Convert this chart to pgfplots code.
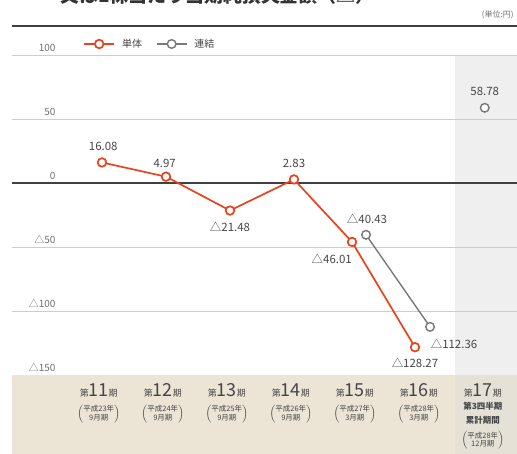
\documentclass[border=0pt]{standalone}
\usepackage{fontspec}
\setmainfont{Noto Sans CJK JP}
\usepackage{pgfplots}
\pgfplotsset{compat=1.18}
\definecolor{redc}{RGB}{233,66,30}
\definecolor{grayc}{RGB}{120,120,120}
\definecolor{gridc}{RGB}{205,205,205}
\definecolor{beige}{RGB}{236,229,213}
\definecolor{beige2}{RGB}{229,225,214}
\definecolor{bandc}{RGB}{239,239,239}
\definecolor{txt}{RGB}{70,70,70}
\definecolor{ticktxt}{RGB}{110,110,110}

% category heading: small 第/期, large number
\newcommand{\cat}[1]{{\fontsize{9}{9}\selectfont 第}{\fontsize{18}{18}\selectfont #1}{\fontsize{9}{9}\selectfont 期}}
\newcommand{\prd}[2]{$\left(\begin{tabular}{@{}c@{}}#1\\#2\end{tabular}\right)$}

\begin{document}
\begin{tikzpicture}
\begin{axis}[
  at={(12bp,0bp)}, anchor=south west,
  width=505bp, height=428bp, scale only axis,
  xmin=9.594, xmax=17.484, ymin=-211.7, ymax=122.7,
  set layers, clip=false,
  axis line style={draw=none},
  xtick=\empty,
  ytick={-100,-50,0,50,100},
  yticklabels={{△100},{△50},{0},{50},{100}},
  extra y ticks={-150},
  extra y tick labels={{△150}},
  extra y tick style={grid=none},
  ymajorgrids, grid style={gridc, line width=1bp},
  major tick length=0pt,
  yticklabel style={anchor=south east, xshift=47bp, yshift=0bp,
    font=\fontsize{10}{10}\selectfont, text=ticktxt},
  legend columns=2,
  legend style={at={(rel axis cs:0.135,0.958)}, anchor=west, draw=none, fill=none,
    font=\fontsize{10}{10}\selectfont, text=txt,
    /tikz/every odd column/.append style={column sep=5bp},
    /tikz/every even column/.append style={column sep=12bp}},
  legend image code/.code={\draw[mark repeat=2, mark phase=2]
    plot coordinates {(0bp,0bp) (15bp,0bp) (30bp,0bp)};},
  unbounded coords=jump,
]
\begin{pgfonlayer}{axis background}
\fill[bandc] (axis cs:16.516,100) rectangle (axis cs:17.484,-150);
\fill[beige] (axis cs:9.594,-150) rectangle (axis cs:17.484,-211.7);
\fill[beige2] (axis cs:16.516,-150) rectangle (axis cs:17.484,-211.7);
\end{pgfonlayer}
\draw[black!75, line width=1.5bp] (axis cs:9.594,122.7) -- (axis cs:17.484,122.7);
\draw[black!75, line width=1.5bp] (axis cs:9.594,0) -- (axis cs:17.484,0);

\addplot[redc, line width=1.7bp, mark=*, mark size=4.3bp,
  mark options={fill=white, draw=redc, line width=1.7bp}]
  coordinates {(11,16.08) (12,4.97) (13,-21.48) (14,2.83) (14.906,-46.01) (15.89,-128.27)};
\addlegendentry{単体}
\addplot[grayc, line width=1.4bp, mark=*, mark size=4.3bp,
  mark options={fill=white, draw=grayc, line width=1.4bp}]
  coordinates {(15.125,-40.43) (16.125,-112.36) (16.6,nan) (16.98,58.78)};
\addlegendentry{連結}

% value labels
\begin{scope}[every node/.style={font=\fontsize{11.5}{12}\selectfont, text=txt, inner sep=0pt}]
\node at (axis cs:11.02,28.9) {16.08};
\node at (axis cs:11.98,15.6) {4.97};
\node at (axis cs:13.0,-34.4) {△21.48};
\node at (axis cs:14.0,15.6) {2.83};
\node at (axis cs:15.14,-28.1) {△40.43};
\node at (axis cs:14.59,-59.4) {△46.01};
\node at (axis cs:16.5,-126) {△112.36};
\node at (axis cs:15.89,-140.6) {△128.27};
\node at (axis cs:16.98,71.9) {58.78};
\end{scope}

% category labels
\begin{scope}[every node/.style={text=txt, inner sep=0pt}]
\node[anchor=base] at (axis cs:10.95,-166.5) {\cat{11}};
\node[anchor=base] at (axis cs:11.95,-166.5) {\cat{12}};
\node[anchor=base] at (axis cs:12.95,-166.5) {\cat{13}};
\node[anchor=base] at (axis cs:13.95,-166.5) {\cat{14}};
\node[anchor=base] at (axis cs:14.95,-166.5) {\cat{15}};
\node[anchor=base] at (axis cs:15.95,-166.5) {\cat{16}};
\node[anchor=base] at (axis cs:16.95,-166.5) {\cat{17}};
\node[font=\fontsize{7.5}{8.5}\selectfont] at (axis cs:10.95,-180.5) {\prd{平成23年}{9月期}};
\node[font=\fontsize{7.5}{8.5}\selectfont] at (axis cs:11.95,-180.5) {\prd{平成24年}{9月期}};
\node[font=\fontsize{7.5}{8.5}\selectfont] at (axis cs:12.95,-180.5) {\prd{平成25年}{9月期}};
\node[font=\fontsize{7.5}{8.5}\selectfont] at (axis cs:13.95,-180.5) {\prd{平成26年}{9月期}};
\node[font=\fontsize{7.5}{8.5}\selectfont] at (axis cs:14.95,-180.5) {\prd{平成27年}{3月期}};
\node[font=\fontsize{7.5}{8.5}\selectfont] at (axis cs:15.95,-180.5) {\prd{平成28年}{3月期}};
\node[font=\fontsize{8.5}{9}\selectfont\bfseries] at (axis cs:16.95,-174.7) {第3四半期};
\node[font=\fontsize{8.5}{9}\selectfont\bfseries] at (axis cs:16.95,-185.7) {累計期間};
\node[font=\fontsize{7.5}{8.5}\selectfont] at (axis cs:16.95,-201.2) {\prd{平成28年}{12月期}};
\end{scope}
\end{axis}
% title, cut off at the top edge as in the reference
\node[anchor=base west, inner sep=0pt, font=\fontsize{19}{19}\selectfont\bfseries, text=black!80]
  at (60bp,451bp) {又は1株当たり当期純損失金額（△）};
\node[anchor=east, font=\fontsize{8}{8}\selectfont, text=ticktxt] at (517bp,439bp) {(単位:円)};
\pgfresetboundingbox
\path[use as bounding box] (0,0) rectangle (517bp,454bp);
\end{tikzpicture}
\end{document}
